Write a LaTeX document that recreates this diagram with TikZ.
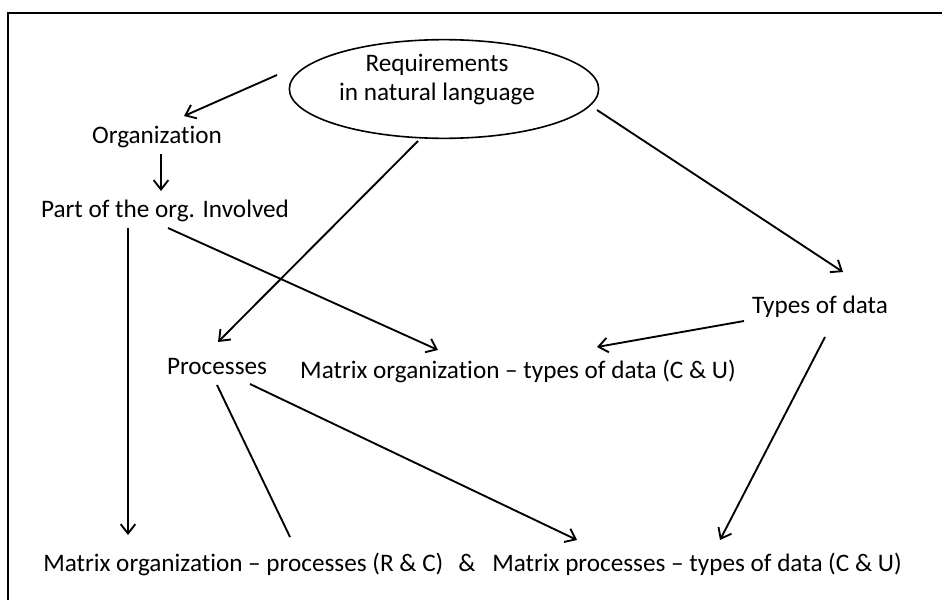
\documentclass[tikz,border=0pt]{standalone}
\usepackage{fontspec}
\setmainfont{Carlito}[Ligatures=NoCommon]
\usetikzlibrary{arrows.meta,shapes.geometric}
\begin{document}
\begin{tikzpicture}[x=0.75pt,y=-0.75pt,
  lbl/.style={inner sep=0pt,font=\fontsize{18.9}{21.75}\selectfont},
  conn/.style={line width=1.4pt},
  arr/.style={conn,-{Straight Barb[length=7pt,width=11pt]}}]
\useasboundingbox (0,0) rectangle (942,600);

% outer frame
\draw[line width=1.5pt] (942,13) -- (8,13) -- (8,600);

% source of everything
\node[ellipse,draw,line width=1.2pt,inner sep=0pt,
      minimum width=232pt,minimum height=74pt] (req) at (444,89) {};
\node[lbl,align=center] (reqtxt) at (437,79) {Requirements\\in natural language};

% derived items
\node[lbl,anchor=base] (org)  at (157,143) {Organization};
\node[lbl,anchor=base] (part) at (165,217) {Part of the org. Involved};
\node[lbl,anchor=base] (proc) at (217,374) {Processes};
\node[lbl,anchor=base] (mot)  at (518,378) {Matrix organization -- types of data (C \& U)};
\node[lbl,anchor=base] (tod)  at (820,313) {Types of data};

% bottom row
\node[lbl,anchor=base west] (mop) at (43,571)  {Matrix organization -- processes (R \& C)};
\node[lbl,anchor=base]      (amp) at (467,571) {\&};
\node[lbl,anchor=base east] (mpt) at (902,571) {Matrix processes -- types of data (C \& U)};

% connectors
\draw[arr]  ([shift={(-167,-14)}]req.center)  -- ([shift={(27,-27)}]org.base);
\draw[arr]  ([shift={(4,11)}]org.base)        -- ([shift={(-4,-26)}]part.base);
\draw[arr]  ([shift={(-37,11)}]part.base)     -- ([shift={(85,-36)}]mop.base west);
\draw[arr]  ([shift={(3,11)}]part.base)       -- ([shift={(-80,-28)}]mot.base);
\draw[arr]  ([shift={(-26,52)}]req.center)    -- ([shift={(1,-32)}]proc.base);
\draw[arr]  ([shift={(153,21)}]req.center)    -- ([shift={(23,-41)}]tod.base);
\draw[arr]  ([shift={(-76,8)}]tod.base)       -- ([shift={(79,-31)}]mot.base);
\draw[arr]  ([shift={(5,24)}]tod.base)        -- ([shift={(-182,-31)}]mpt.base east);
\draw[conn] ([shift={(0,11)}]proc.base)       -- ([shift={(247,-34)}]mop.base west);
\draw[arr]  ([shift={(33,10)}]proc.base)      -- ([shift={(-325,-31)}]mpt.base east);
\end{tikzpicture}
\end{document}
